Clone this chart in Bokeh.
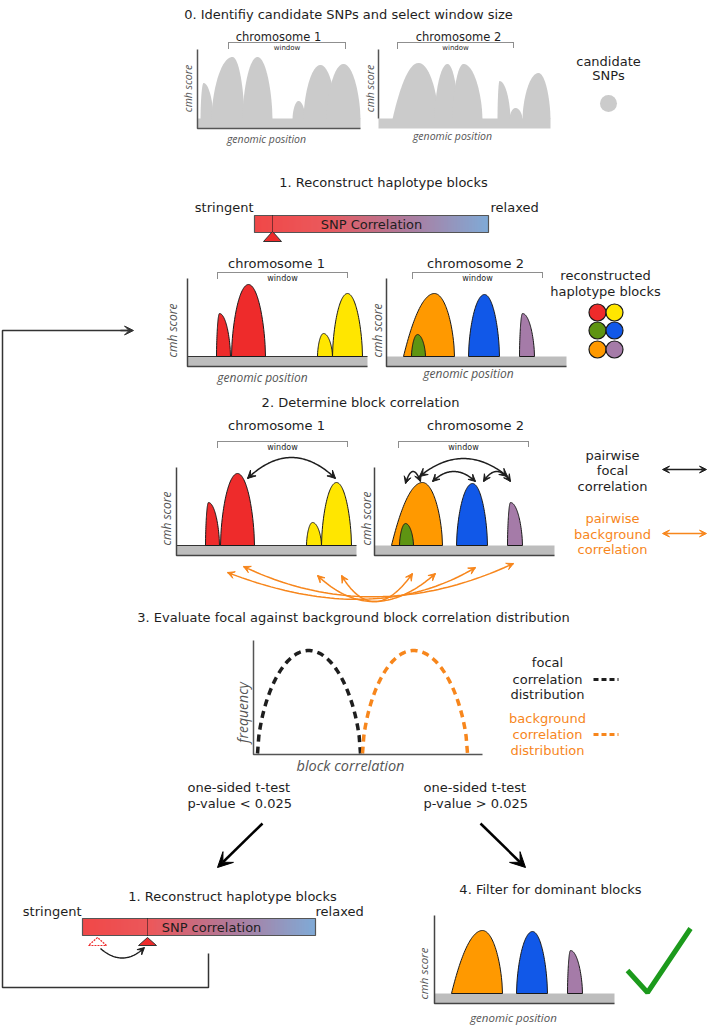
import numpy as np
from bokeh.plotting import figure
from bokeh.models import Range1d, Arrow, VeeHead
from bokeh.core.properties import value
from bokeh.embed import file_html
from bokeh.resources import INLINE

# ---------------- data ----------------
# step titles
title0 = "0. Identifiy candidate SNPs and select window size"
title1 = "1. Reconstruct haplotype blocks"
title2 = "2. Determine block correlation"
title3 = "3. Evaluate focal against background block correlation distribution"
title4 = "4. Filter for dominant blocks"
chrom_labels = ["chromosome 1", "chromosome 2"]

# step 0: raw cmh score peaks (genomic offset start / apex / end, score height)
s0_c1_start = [3, 14, 45, 95, 106, 129]
s0_c1_apex = [6, 35, 60, 101, 123, 146]
s0_c1_end = [16, 47, 75, 108, 139, 163]
s0_c1_score = [36, 62, 62, 18, 54, 55]
s0_c2_start = [14, 56, 74, 119, 131, 144]
s0_c2_apex = [40, 69, 85, 121, 137, 160]
s0_c2_end = [60, 80, 104, 132, 144, 172]
s0_c2_score = [56, 55, 55, 38, 11, 46]

# reconstructed haplotype blocks
c1_blocks = ["red_a", "red_b", "yellow_a", "yellow_b"]
c1_start = [29, 44, 130, 145]
c1_apex = [32, 61, 136, 160]
c1_end = [43, 78, 145, 175]
c1_score = [43, 72, 23, 63]
c1_colors = ["#ee2b2b", "#ee2b2b", "#ffe600", "#ffe600"]

c2_blocks = ["orange", "green", "blue", "purple"]
c2_start = [17, 25, 82, 133]
c2_apex = [48, 31, 98, 136]
c2_end = [68, 39, 113, 148]
c2_score = [63, 22, 62, 43]
c2_colors = ["#ff9900", "#5e9412", "#1158e8", "#a57ba8"]

legend_block_colors = ["#ee2b2b", "#ffe600", "#5e9412", "#1158e8", "#ff9900", "#a57ba8"]

# correlation distributions (left foot, mode, right foot, frequency)
dist_names = ["focal", "background"]
dist_left = [4, 109]
dist_mode = [55, 160]
dist_right = [107, 214]
dist_freq = [103, 103]

# ---------------- figure ----------------
W, H = 709, 1026
p = figure(width=W, height=H, x_range=Range1d(0, W), y_range=Range1d(H, 0),
           output_backend="svg", toolbar_location=None, min_border=0,
           x_axis_location=None, y_axis_location=None)
p.grid.visible = False
p.outline_line_color = None
p.background_fill_color = "white"

DARK = "#1e1e1e"
AX = "#444444"
ORANGE = "#f7861c"
FONT = value("DejaVu Sans")
IFONT = value("Open Sans")


def txt(x, y, s, size=13, color=DARK, align="center", font=FONT, style="normal", angle=0.0):
    p.text(x=[x], y=[y], text=[s], text_font=font, text_font_size=f"{size}px",
           text_color=color, text_align=align, text_baseline="middle",
           text_font_style=style, angle=angle)


def prof(u, kind):
    u = np.clip(u, 0, 1)
    if kind == "slope":
        return 1 - u ** 2
    return (1 - u ** 2) ** 0.6


def bump(ox, base, s, a, e, h, left="round", right="round"):
    xl = np.linspace(s, a, 40)
    ul = (a - xl) / max(a - s, 1e-6)
    xr = np.linspace(a, e, 40)
    ur = (xr - a) / max(e - a, 1e-6)
    xs = np.concatenate([xl, xr[1:]]) + ox
    ys = base - h * np.concatenate([prof(ul, left), prof(ur, right)[1:]])
    return list(xs), list(ys)


def bracket(x0, x1, y, label, size=8):
    p.line([x0, x0, x1, x1], [y + 6, y, y, y + 6], line_color=DARK, line_width=1.1,
           line_dash="1 1")
    txt((x0 + x1) / 2, y + 5.5, label, size=size)


def quad_curve(p0, c, p2, n=60):
    t = np.linspace(0, 1, n)
    xs = (1 - t) ** 2 * p0[0] + 2 * (1 - t) * t * c[0] + t ** 2 * p2[0]
    ys = (1 - t) ** 2 * p0[1] + 2 * (1 - t) * t * c[1] + t ** 2 * p2[1]
    return xs, ys


def head_at(tip, frm, color, size=8):
    d = np.array(tip, float) - np.array(frm, float)
    d = d / np.hypot(*d)
    st = np.array(tip) - d * 3
    p.add_layout(Arrow(end=VeeHead(size=size, fill_color=color, line_color=color, line_width=1),
                       x_start=st[0], y_start=st[1], x_end=tip[0], y_end=tip[1],
                       line_alpha=0))


def curved_double_arrow(p0, c, p2, color, width=1.5, size=8):
    xs, ys = quad_curve(p0, c, p2)
    p.line(xs, ys, line_color=color, line_width=width)
    head_at(p0, c, color, size)
    head_at(p2, c, color, size)


def gradient_bar(x0, x1, y0, y1):
    stops = [(0.0, (238, 40, 40)), (0.3, (232, 60, 64)), (0.65, (160, 100, 140)), (1.0, (106, 156, 208))]
    n = int(x1 - x0)
    lefts, rights, cols = [], [], []
    for i in range(n):
        f = (i + 0.5) / n
        for (a, ca), (b, cb) in zip(stops[:-1], stops[1:]):
            if a <= f <= b:
                t = (f - a) / (b - a)
                c = tuple(int(ca[k] + (cb[k] - ca[k]) * t) for k in range(3))
                break
        lefts.append(x0 + i)
        rights.append(x0 + i + 1.2)
        cols.append("#%02x%02x%02x" % c)
    p.quad(left=lefts, right=rights, top=[y0] * n, bottom=[y1] * n, fill_color=cols, line_color=None)
    p.quad(left=[x0], right=[x1], top=[y0], bottom=[y1], fill_color=None, line_color="#555555", line_width=1.2)


def block_panel(ox, base, which, topline=False, names=None):
    # base = top of gray band
    p.quad(left=[ox], right=[ox + 180], top=[base], bottom=[base + 10], fill_color="#bdbdbd", line_color=None)
    if topline:
        p.line([ox, ox + 180], [base, base], line_color="#333333", line_width=1)
    if which == 1:
        S, A, E, Hh, C = c1_start, c1_apex, c1_end, c1_score, c1_colors
        kinds = ["round"] * 4
        idx = range(4)
    else:
        S, A, E, Hh, C = c2_start, c2_apex, c2_end, c2_score, c2_colors
        kinds = ["slope", "round", "round", "round"]
        idx = names if names is not None else range(4)
    for i in idx:
        xs, ys = bump(ox, base, S[i], A[i], E[i], Hh[i], left=kinds[i])
        p.patch(xs, ys, fill_color=C[i], line_color="#1a1a1a", line_width=1)
    p.line([ox, ox, ox + 180], [base + 10 - 88, base + 10, base + 10], line_color=AX, line_width=1.5)


# ---------------- step 0 ----------------
txt(348, 14, title0, size=13)
G0 = "#cbcbcb"
for ox, S, A, E, Hh, width in [(197, s0_c1_start, s0_c1_apex, s0_c1_end, s0_c1_score, 163),
                               (378, s0_c2_start, s0_c2_apex, s0_c2_end, s0_c2_score, 172)]:
    p.quad(left=[ox], right=[ox + width], top=[118], bottom=[128], fill_color=G0, line_color=None)
    for i in range(len(S)):
        kind = "slope" if (ox == 378 and i == 0) else "round"
        xs, ys = bump(ox, 118.5, S[i], A[i], E[i], Hh[i], left=kind)
        p.patch(xs, ys, fill_color=G0, line_color=None)
p.line([197, 197, 360], [49, 128, 128], line_color="#555555", line_width=1.5)
p.line([378, 378], [49, 118], line_color="#555555", line_width=1.5)
txt(278, 36, chrom_labels[0], size=11.5)
txt(458, 36, chrom_labels[1], size=11.5)
bracket(228, 345, 42, "window", size=7)
bracket(397, 513, 42, "window", size=7)
txt(187, 88, "cmh score", size=10.5, color="#555555", font=IFONT, style="italic", angle=np.pi / 2)
txt(369, 88, "cmh score", size=10.5, color="#555555", font=IFONT, style="italic", angle=np.pi / 2)
txt(266, 138, "genomic position", size=10.5, color="#555555", font=IFONT, style="italic")
txt(452, 135, "genomic position", size=10.5, color="#555555", font=IFONT, style="italic")
txt(608, 61, "candidate", size=13)
txt(608, 75, "SNPs", size=13)
p.scatter([608], [103], size=17, fill_color=G0, line_color=None)

# ---------------- step 1 ----------------
txt(383, 182, title1, size=13)
txt(253, 207, "stringent", size=13, align="right")
txt(490, 207, "relaxed", size=13, align="left")
gradient_bar(254, 488, 215, 232)
txt(371, 224, "SNP Correlation", size=13)
p.line([272, 272], [215, 232], line_color="#111111", line_width=1, line_dash="1 1")
p.patch([272, 263, 281], [231, 241, 241], fill_color="#ee2b2b", line_color="#333333", line_width=1)

block_panel(187, 356, 1, topline=True)
block_panel(386, 356, 2)
txt(276, 263, chrom_labels[0], size=13)
txt(475, 263, chrom_labels[1], size=13)
bracket(217, 347, 272, "window", size=8)
bracket(412, 542, 272, "window", size=8)
txt(172, 330, "cmh score", size=12, color="#555555", font=IFONT, style="italic", angle=np.pi / 2)
txt(377, 330, "cmh score", size=12, color="#555555", font=IFONT, style="italic", angle=np.pi / 2)
txt(262, 377, "genomic position", size=12, color="#555555", font=IFONT, style="italic")
txt(468, 373, "genomic position", size=12, color="#555555", font=IFONT, style="italic")

txt(605, 275, "reconstructed", size=13)
txt(605, 291, "haplotype blocks", size=13)
p.scatter([597, 614, 597, 614, 597, 614], [312, 312, 330, 330, 349, 349], size=17,
          fill_color=legend_block_colors, line_color="#1a1a1a", line_width=1.2)

# ---------------- step 2 ----------------
txt(360, 402, title2, size=13)
block_panel(176, 545, 1, topline=True)
block_panel(374, 545, 2)
txt(276, 425, chrom_labels[0], size=13)
txt(475, 425, chrom_labels[1], size=13)
bracket(217, 347, 441, "window", size=8)
bracket(398, 528, 441, "window", size=8)
txt(166, 518, "cmh score", size=12, color="#555555", font=IFONT, style="italic", angle=np.pi / 2)
txt(366, 518, "cmh score", size=12, color="#555555", font=IFONT, style="italic", angle=np.pi / 2)

# focal (black) correlations
curved_double_arrow((247, 478), (291, 436), (335, 478), DARK, width=1.5)
curved_double_arrow((419, 476), (463, 440), (507, 476), DARK, width=1.5)
curved_double_arrow((405, 483), (412, 460), (420, 481), DARK, width=1.5, size=7)
curved_double_arrow((432, 481), (453, 461), (475, 481), DARK, width=1.5, size=7)
curved_double_arrow((483, 481), (496, 461), (510, 481), DARK, width=1.5, size=7)

# background (orange) correlations
orange_left_x = [227, 243, 317, 341]
orange_left_y = [572, 566, 575, 575]
orange_right_x = [475, 513, 435, 412]
orange_right_y = [567, 563, 573, 573]
for lx, ly, rx, ry in zip(orange_left_x, orange_left_y, orange_right_x, orange_right_y):
    curved_double_arrow((lx, ly), (373, 628), (rx, ry), ORANGE, width=1.5, size=7)

txt(612, 455, "pairwise", size=13)
txt(612, 470, "focal", size=13)
txt(612, 486, "correlation", size=13)
txt(612, 518, "pairwise", size=13, color=ORANGE)
txt(612, 534, "background", size=13, color=ORANGE)
txt(612, 549, "correlation", size=13, color=ORANGE)
p.add_layout(Arrow(start=VeeHead(size=7, fill_color=DARK, line_color=DARK),
                   end=VeeHead(size=7, fill_color=DARK, line_color=DARK),
                   x_start=662, y_start=469, x_end=706, y_end=469, line_color=DARK, line_width=1.5))
p.add_layout(Arrow(start=VeeHead(size=7, fill_color=ORANGE, line_color=ORANGE),
                   end=VeeHead(size=7, fill_color=ORANGE, line_color=ORANGE),
                   x_start=662, y_start=533, x_end=706, y_end=533, line_color=ORANGE, line_width=1.5))

# ---------------- step 3 ----------------
txt(353, 617, title3, size=13)
ox3, base3 = 253, 753
for i, col in enumerate([DARK, ORANGE]):
    xs, ys = bump(ox3, base3, dist_left[i], dist_mode[i], dist_right[i], dist_freq[i])
    p.line(xs, ys, line_color=col, line_width=3.5, line_dash="7 5")
p.line([253, 253, 482], [640, 754, 754], line_color="#555555", line_width=1.5)
txt(242, 712, "frequency", size=14, color="#555555", font=IFONT, style="italic", angle=np.pi / 2)
txt(350, 765, "block correlation", size=14.5, color="#555555", font=IFONT, style="italic")
txt(547, 662, "focal", size=13)
txt(547, 679, "correlation", size=13)
txt(547, 694, "distribution", size=13)
txt(547, 718, "background", size=13, color=ORANGE)
txt(547, 734, "correlation", size=13, color=ORANGE)
txt(547, 750, "distribution", size=13, color=ORANGE)
p.line([593, 618], [679, 679], line_color=DARK, line_width=3, line_dash="5 3")
p.line([593, 618], [734, 734], line_color=ORANGE, line_width=3, line_dash="5 3")

# ---------------- outcomes ----------------
txt(187, 787, "one-sided t-test", size=13, align="left")
txt(187, 803, "p-value < 0.025", size=13, align="left")
txt(423, 787, "one-sided t-test", size=13, align="left")
txt(423, 803, "p-value > 0.025", size=13, align="left")
p.add_layout(Arrow(end=VeeHead(size=15, fill_color="black", line_color="black"),
                   x_start=262, y_start=823, x_end=217, y_end=867, line_width=2.5, line_color="black"))
p.add_layout(Arrow(end=VeeHead(size=15, fill_color="black", line_color="black"),
                   x_start=480, y_start=823, x_end=525, y_end=867, line_width=2.5, line_color="black"))

# back to step 1
txt(232, 896, title1, size=13)
txt(81, 911, "stringent", size=13, align="right")
txt(315, 911, "relaxed", size=13, align="left")
gradient_bar(82, 315, 918, 935)
txt(211, 927, "SNP correlation", size=13)
p.line([147, 147], [918, 935], line_color="#111111", line_width=1, line_dash="1 1")
p.patch([97, 88, 106], [937, 945, 945], fill_color=None, line_color="#ee2b2b", line_width=1.2, line_dash="2 1")
p.patch([147, 138, 156], [937, 945, 945], fill_color="#ee2b2b", line_color="#333333", line_width=1)
xs, ys = quad_curve((100, 948), (122, 967), (143, 948))
p.line(xs, ys, line_color=DARK, line_width=1.4)
head_at((144, 947), (122, 967), DARK, size=7)
p.line([208, 208, 2, 2, 128], [953, 987, 987, 330, 330], line_color="#333333", line_width=1.5)
p.add_layout(Arrow(end=VeeHead(size=9, fill_color="#333333", line_color="#333333"),
                   x_start=120, y_start=330, x_end=133, y_end=330, line_width=1.5, line_color="#333333"))

# step 4
txt(550, 889, title4, size=13)
block_panel(434, 993, 2, names=[0, 2, 3])
txt(423, 973, "cmh score", size=11.5, color="#555555", font=IFONT, style="italic", angle=np.pi / 2)
txt(513, 1017, "genomic position", size=11.5, color="#555555", font=IFONT, style="italic")
p.line([627, 647, 690], [970, 992, 928], line_color="#1c9a1c", line_width=5)

open("out.html", "w").write(file_html(p, INLINE))
